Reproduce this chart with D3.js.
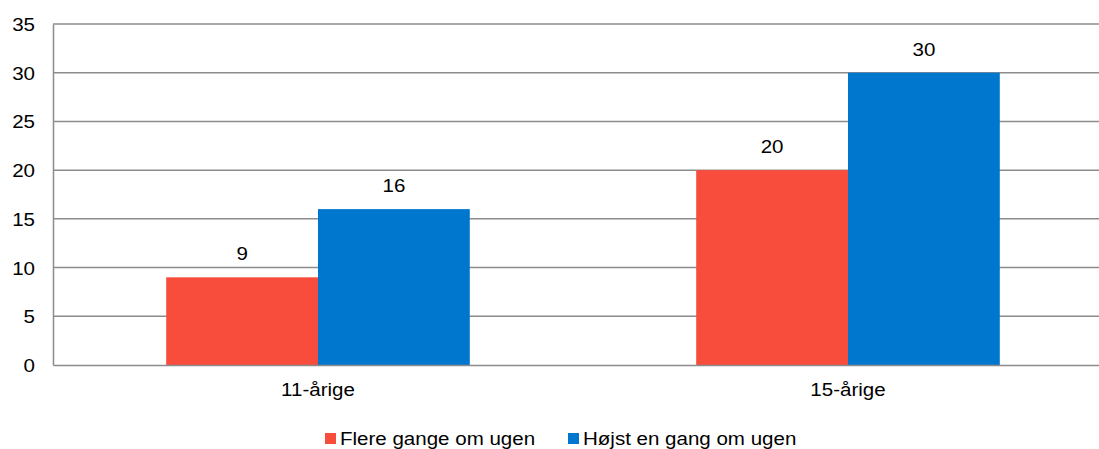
<!DOCTYPE html>
<html><head><meta charset="utf-8">
<script src="https://cdn.jsdelivr.net/npm/d3@7"></script>
<style>body{margin:0;background:#fff}svg{display:block}text{font-family:"Liberation Sans",Arial,sans-serif;fill:#000}</style>
</head><body><svg id="c" width="1099" height="449"></svg>
<script>
const categories = ["11-årige", "15-årige"];
const seriesNames = ["Flere gange om ugen", "Højst en gang om ugen"];
const flere = [9, 20];
const hoejst = [16, 30];
const yTicks = [0, 5, 10, 15, 20, 25, 30, 35];
const colors = ["#F84C3C", "#0077CE"];

const svg = d3.select("#c");
const mLeft = 53, mTop = 24, mBottom = 365, mRight = 1113;
const x = d3.scaleBand().domain(categories).range([mLeft, mRight]).paddingInner(0.4272).paddingOuter(0.2136);
const x1 = d3.scaleBand().domain(seriesNames).range([0, x.bandwidth()]);
const y = d3.scaleLinear().domain([0, 35]).range([mBottom, mTop]);
const fs = 18.5, sx = 1.11;

// gridlines
svg.append("g").selectAll("line").data(yTicks.filter(d => d > 0)).join("line")
  .attr("x1", mLeft).attr("x2", mRight).attr("y1", d => y(d)).attr("y2", d => y(d))
  .attr("stroke", "#8c8c8c").attr("stroke-width", 1.5);

const series = [flere, hoejst];
const data = [];
categories.forEach((c, i) => seriesNames.forEach((s, j) => data.push({c, s, v: series[j][i], j})));

svg.append("g").selectAll("rect").data(data).join("rect")
  .attr("x", d => x(d.c) + x1(d.s)).attr("width", x1.bandwidth())
  .attr("y", d => y(d.v)).attr("height", d => y(0) - y(d.v))
  .attr("fill", d => colors[d.j]);

svg.append("g").selectAll("text").data(data).join("text")
  .attr("x", d => x(d.c) + x1(d.s) + x1.bandwidth() / 2)
  .attr("y", d => y(d.v) - 17)
  .attr("text-anchor", "middle").attr("font-size", fs).text(d => d.v);

// axes
const yAxis = d3.axisLeft(y).tickValues(yTicks).tickSize(0).tickPadding(18);
const gy = svg.append("g").attr("transform", `translate(${mLeft},0)`).call(yAxis);
gy.select(".domain").attr("stroke", "#8c8c8c").attr("stroke-width", 1.5);
gy.selectAll("text").attr("font-size", fs).attr("font-family", "Liberation Sans, Arial, sans-serif").attr("fill", "#000").attr("dy", "0.35em");

const xAxis = d3.axisBottom(x).tickSize(0).tickPadding(18);
const gx = svg.append("g").attr("transform", `translate(0,${mBottom})`).call(xAxis);
gx.select(".domain").attr("stroke", "#8c8c8c").attr("stroke-width", 1.5);
gx.selectAll("text").attr("font-size", fs).attr("font-family", "Liberation Sans, Arial, sans-serif").attr("fill", "#000");

// legend
const legendX = [325, 568];
const lg = svg.append("g").selectAll("g").data(seriesNames).join("g")
  .attr("transform", (d, i) => `translate(${legendX[i]},433)`);
lg.append("rect").attr("width", 11).attr("height", 11).attr("fill", (d, i) => colors[i]);
lg.append("text").attr("x", 15).attr("y", 12).attr("font-size", fs).text(d => d);

// widen glyphs horizontally to match the reference rendering
svg.selectAll("text").each(function() {
  const ax = +this.getAttribute("x") || 0;
  this.setAttribute("transform", `matrix(${sx},0,0,1,${(1 - sx) * ax},0)`);
});
</script></body></html>
